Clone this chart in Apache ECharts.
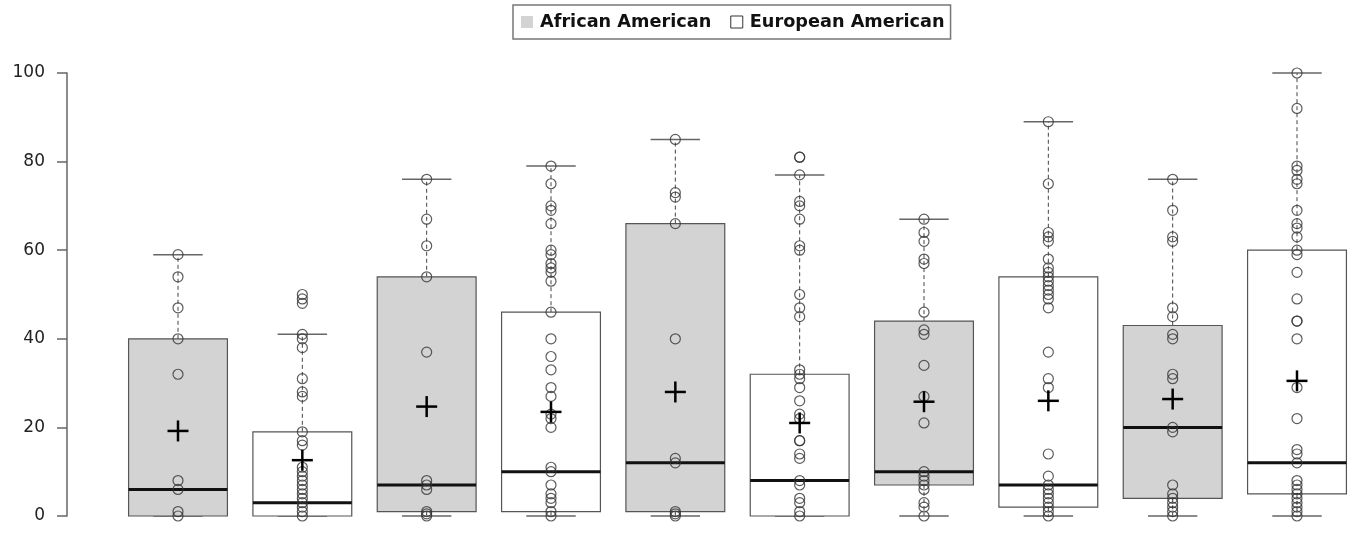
<!DOCTYPE html>
<html>
<head>
<meta charset="utf-8">
<script src="https://cdn.jsdelivr.net/npm/echarts@6/dist/echarts.min.js"></script>
<style>html,body{margin:0;padding:0;background:#fff;}#c{width:1355px;height:535px;}</style>
</head>
<body>
<div id="c"></div>
<script>
// Box groups, alternating African American / European American
const groups = ['African American','European American','African American','European American','African American','European American','African American','European American','African American','European American'];
const whiskerLow  = [0, 0, 0, 0, 0, 0, 0, 0, 0, 0];
const q1          = [0, 0, 1, 1, 1, 0, 7, 2, 4, 5];
const median      = [6, 3, 7, 10, 12, 8, 10, 7, 20, 12];
const q3          = [40, 19, 54, 46, 66, 32, 44, 54, 43, 60];
const whiskerHigh = [59, 41, 76, 79, 85, 77, 67, 89, 76, 100];
const means       = [19.2, 12.6, 24.7, 23.5, 28, 21, 25.8, 26, 26.4, 30.5];
const yTicks = [0, 20, 40, 60, 80, 100];

const pts1  = [59,54,47,40,32,8,6,1,0];
const pts2  = [50,49,48,41,40,38,31,28,27,19,17,16,11,10,9,8,7,6,5,4,3,2,1,0];
const pts3  = [76,67,61,54,37,8,7,6,1,0.5,0];
const pts4  = [79,75,70,69,66,60,59,57,56,55,53,46,40,36,33,29,27,23,22,20,11,10,7,5,4,3,1,0];
const pts5  = [85,73,72,66,40,13,12,1,0.5,0];
const pts6  = [81,81,77,71,70,67,61,60,50,47,45,33,32,31,29,26,23,22,17,17,14,13,8,7,4,3,1,0];
const pts7  = [67,64,62,58,57,46,42,41,34,27,21,10,9,8,7,6,3,2,0];
const pts8  = [89,75,64,63,62,58,56,55,54,53,52,51,50,49,47,37,31,29,14,9,7,6,5,4,3,2,1,0];
const pts9  = [76,69,63,62,47,45,41,40,32,31,20,19,7,5,4,3,2,1,0];
const pts10 = [100,92,79,78,76,75,69,66,65,63,60,59,55,49,44,44,40,29,22,15,14,12,8,7,6,5,4,3,2,1,0];
const points = [pts1,pts2,pts3,pts4,pts5,pts6,pts7,pts8,pts9,pts10];

const fills = {'African American': '#d3d3d3', 'European American': '#ffffff'};

function boxData(name) {
  const out = [];
  groups.forEach((g, i) => {
    if (g === name) out.push([i + 1, whiskerLow[i], q1[i], median[i], q3[i], whiskerHigh[i]]);
  });
  return out;
}

function renderBox(params, api) {
  const x = api.value(0);
  const lo = api.coord([x, api.value(1)]);
  const b = api.coord([x, api.value(2)]);
  const m = api.coord([x, api.value(3)]);
  const t = api.coord([x, api.value(4)]);
  const hi = api.coord([x, api.value(5)]);
  const w = api.size([1, 0])[0] * 0.795;
  const cx = lo[0];
  const capW = w / 2;
  const fill = fills[params.seriesName];
  const children = [];
  children.push({type:'line', shape:{x1:cx, y1:t[1], x2:cx, y2:hi[1]}, style:{stroke:'#444', lineWidth:1, lineDash:[4,3]}});
  children.push({type:'line', shape:{x1:cx, y1:b[1], x2:cx, y2:lo[1]}, style:{stroke:'#444', lineWidth:1, lineDash:[4,3]}});
  children.push({type:'line', shape:{x1:cx-capW/2, y1:hi[1], x2:cx+capW/2, y2:hi[1]}, style:{stroke:'#666', lineWidth:1.5}});
  children.push({type:'line', shape:{x1:cx-capW/2, y1:lo[1], x2:cx+capW/2, y2:lo[1]}, style:{stroke:'#666', lineWidth:1.5}});
  children.push({type:'rect', shape:{x:cx-w/2, y:t[1], width:w, height:b[1]-t[1]}, style:{fill:fill, stroke:'#555', lineWidth:1.2}});
  children.push({type:'line', shape:{x1:cx-w/2, y1:m[1], x2:cx+w/2, y2:m[1]}, style:{stroke:'#111', lineWidth:3}});
  return {type:'group', children:children};
}

const scatterData = [];
points.forEach((arr, i) => arr.forEach(v => scatterData.push([i + 1, v])));
const meanData = means.map((v, i) => [i + 1, v]);

const chart = echarts.init(document.getElementById('c'), null, {renderer:'canvas'});
chart.setOption({
  animation: false,
  backgroundColor: '#fff',
  legend: {
    left: 513, top: 5,
    padding: [8, 6, 8, 8],
    itemWidth: 12, itemHeight: 12, itemGap: 19,
    borderColor: '#777', borderWidth: 1.5, borderRadius: 0,
    textStyle: {fontFamily: 'DejaVu Sans', fontWeight: 'bold', fontSize: 17.7, color: '#111', padding: [0,0,0,2]},
    data: [
      {name: 'African American', icon: 'rect', itemStyle: {color: '#d3d3d3', borderWidth: 0}},
      {name: 'European American', icon: 'rect', itemStyle: {color: '#fff', borderColor: '#333', borderWidth: 1}}
    ]
  },
  grid: {left: 178, right: 58, top: 73, bottom: 19, containLabel: false},
  xAxis: {type: 'value', min: 1, max: 10, show: false},
  yAxis: {
    type: 'value', min: 0, max: 100, interval: 20, offset: 111,
    axisLine: {show: true, lineStyle: {color: '#666', width: 1.5}},
    axisTick: {show: true, length: 10, lineStyle: {color: '#666', width: 1.5}},
    splitLine: {show: false},
    axisLabel: {fontFamily: 'DejaVu Sans', fontSize: 17, color: '#222', margin: 22,
      formatter: v => (yTicks.indexOf(v) >= 0 ? String(v) : '')}
  },
  series: [
    {name: 'African American', type: 'custom', renderItem: renderBox, data: boxData('African American'),
     itemStyle: {color: '#d3d3d3'}, encode: {x: 0, y: [1,2,3,4,5]}, z: 1},
    {name: 'European American', type: 'custom', renderItem: renderBox, data: boxData('European American'),
     itemStyle: {color: '#fff'}, encode: {x: 0, y: [1,2,3,4,5]}, z: 1},
    {name: 'points', type: 'scatter', data: scatterData, symbol: 'circle', symbolSize: 10,
     itemStyle: {color: 'rgba(0,0,0,0)', borderColor: '#333', borderWidth: 1.2}, z: 3, silent: true},
    {name: 'mean', type: 'custom', data: meanData, z: 4, silent: true,
     renderItem: function (params, api) {
       const p = api.coord([api.value(0), api.value(1)]);
       const s = 10.5;
       return {type: 'group', children: [
         {type: 'line', shape: {x1: p[0]-s, y1: p[1], x2: p[0]+s, y2: p[1]}, style: {stroke: '#000', lineWidth: 2.5}},
         {type: 'line', shape: {x1: p[0], y1: p[1]-s, x2: p[0], y2: p[1]+s}, style: {stroke: '#000', lineWidth: 2.5}}
       ]};
     }}
  ]
});
</script>
</body>
</html>
